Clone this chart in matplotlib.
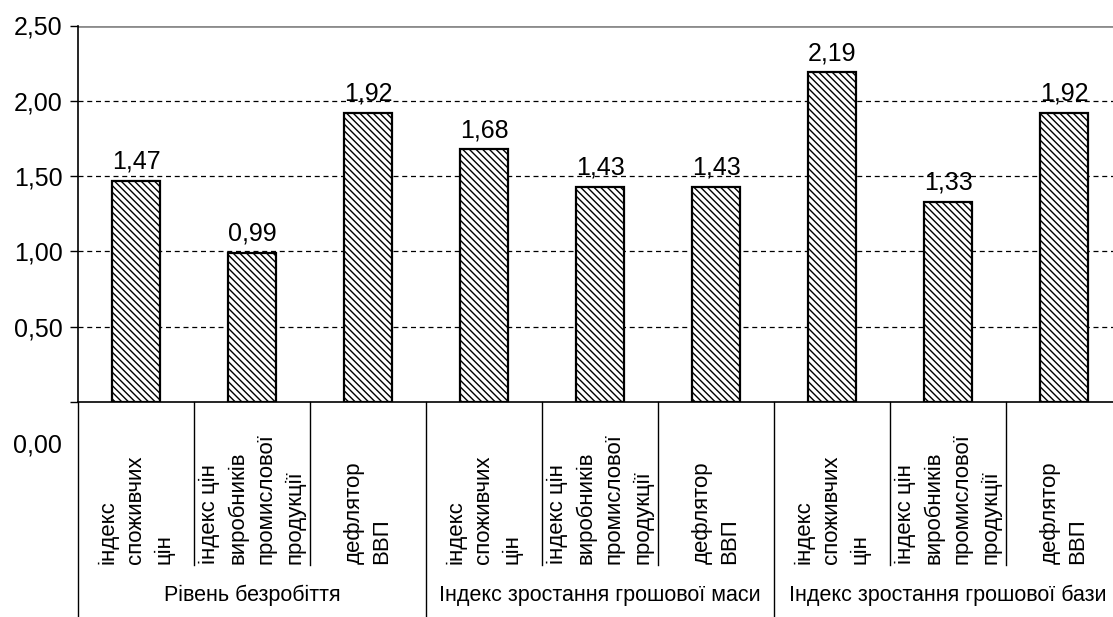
import matplotlib
matplotlib.use("Agg")
import matplotlib.pyplot as plt

plt.rcParams['font.family'] = ['Liberation Sans Narrow', 'Liberation Sans', 'DejaVu Sans']
plt.rcParams['hatch.linewidth'] = 1.0

# data
groups = ["Рівень безробіття", "Індекс зростання грошової маси", "Індекс зростання грошової бази"]
indicators = ["індекс\nспоживчих\nцін",
              "індекс цін\nвиробників\nпромислової\nпродукції",
              "дефлятор\nВВП"]
values = [1.47, 0.99, 1.92,
          1.68, 1.43, 1.43,
          2.19, 1.33, 1.92]
yticks = [0.0, 0.5, 1.0, 1.5, 2.0, 2.5]

W, H = 1113, 617
fig = plt.figure(figsize=(W / 100, H / 100), dpi=100)
# axes box in pixels: left spine x=78, zero line y=402, top y=25.5
ax = fig.add_axes([78 / W, (H - 402) / H, (W - 78) / W, (402 - 25.5) / H])

n = len(values)
x = list(range(n))
cat_w = 116  # pixel width of one category
ax.set_xlim(-0.5, -0.5 + (W - 78) / cat_w)
ax.set_ylim(0, 2.5)

for y in yticks[1:-1]:
    ax.axhline(y, color="black", lw=0.9, ls=(0, (4, 3)), zorder=0)
ax.axhline(yticks[-1], color="#8c8c8c", lw=2, zorder=0)

bars = ax.bar(x, values, width=0.42, color="white", edgecolor="black",
              linewidth=1.6, hatch="\\" * 5, zorder=2)
ax.bar_label(bars, labels=[f"{v:.2f}".replace(".", ",") for v in values],
             padding=5, fontsize=18)

for s in ["top", "right"]:
    ax.spines[s].set_visible(False)
ax.spines["left"].set_color("black")
ax.spines["bottom"].set_color("black")
ax.spines["left"].set_linewidth(1.2)
ax.spines["bottom"].set_linewidth(1.2)

ax.set_yticks(yticks)
ax.set_yticklabels([""] + [f"{t:.2f}".replace(".", ",") for t in yticks[1:]])
ax.tick_params(axis="y", length=6, width=1, pad=5, labelsize=18, colors="black")
ax.set_xticks([])
ax.annotate("0,00", xy=(0, 0), xycoords=("axes fraction", "data"),
            xytext=(-11.5, -31), textcoords="offset points",
            ha="right", va="center", fontsize=18)

# category table below the axis
ah = 402 - 25.5
inner_end = (402 - 565) / ah
group_end = (402 - 640) / ah
tr = ax.get_xaxis_transform()
for i in range(n + 1):
    xb = i - 0.5
    y1 = group_end if i % 3 == 0 else inner_end
    ax.plot([xb, xb], [0, y1], color="black", lw=1, transform=tr, clip_on=False)

for i in range(n):
    ax.text(i, (402 - 564) / ah, indicators[i % 3], transform=tr, rotation=90,
            ha="center", va="bottom", multialignment="left",
            fontsize=16, linespacing=1.45)

for g, name in enumerate(groups):
    ax.text(3 * g + 1, (402 - 595) / ah, name, transform=tr,
            ha="center", va="center", fontsize=15.5)

fig.savefig("out.png", dpi=100)
